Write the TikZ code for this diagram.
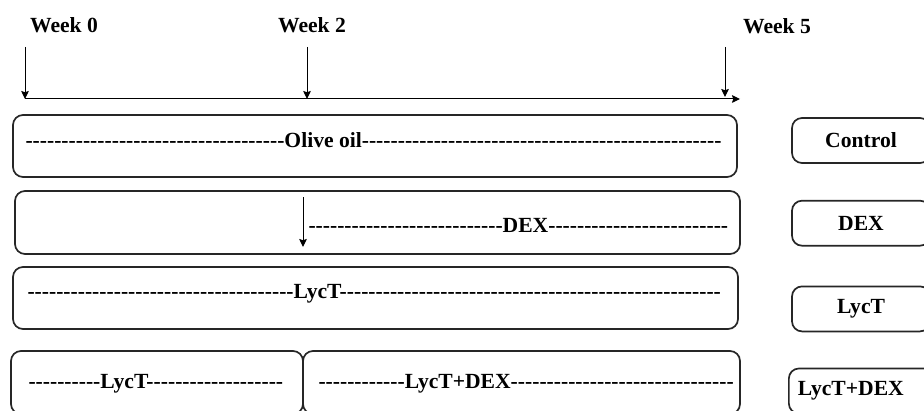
\documentclass[tikz,border=0pt]{standalone}
\usepackage{fontspec}
\setmainfont{Liberation Serif}[Ligatures=TeXOff]
\usetikzlibrary{arrows.meta,positioning}

\begin{document}
\begin{tikzpicture}[->, >={Stealth[length=4pt,width=3.8pt,inset=0.6pt]}, x=0.5pt, y=-0.5pt, line width=0.5pt, font=\fontsize{10.8}{13}\selectfont\bfseries]
\tikzstyle{rowbox}=[draw=black!85, line width=0.85pt, rounded corners=5pt, inner sep=0pt]
\tikzstyle{groupbox}=[rowbox, minimum width=69pt, minimum height=22.5pt]
\tikzstyle{rowtext}=[inner sep=0pt, anchor=base west]

\useasboundingbox (0,0) rectangle (924,411);
\clip (0,0) rectangle (924,411);

% time line
\node (w0) at (64,25)  {Week 0};
\node (w2) at (312,25) {Week 2};
\node (w5) at (777,26) {Week 5};

\coordinate (t0) at (25,47);
\coordinate (t2) at (307,47);
\coordinate (t5) at (725,47);
\coordinate (s0) at (25,99);
\coordinate (s2) at (307,99);
\coordinate (s5) at (725,97);
\coordinate (tend) at (740,99);

\path (s0) edge [->] (tend);
\path (t0) edge [->] (s0);
\path (t2) edge [->] (s2);
\path (t5) edge [->] (s5);

% treatment rows
\node[rowbox, minimum width=362pt, minimum height=31pt]   (oil)  at (375,146)   {};
\node[rowbox, minimum width=362.5pt, minimum height=31.5pt] (dex) at (377.5,222.5) {};
\node[rowbox, minimum width=362.5pt, minimum height=31pt] (lyc)  at (375.5,298) {};
\node[rowbox, minimum width=146pt, minimum height=31.5pt] (lycA) at (157,382.5) {};
\node[rowbox, minimum width=218.5pt, minimum height=31.5pt] (lycB) at (521.5,382.5) {};

\node[rowtext] (oiltxt)  at (25,148)   {------------------------------------Olive oil--------------------------------------------------};
\node[rowtext] (dextxt)  at (308,232.5) {---------------------------DEX-------------------------};
\node[rowtext] (lyctxt)  at (27,298.5) {-------------------------------------LycT-----------------------------------------------------};
\node[rowtext] (lycAtxt) at (28,388.5) {----------LycT-------------------};
\node[rowtext] (lycBtxt) at (318,388.5) {------------LycT+DEX-------------------------------};

\coordinate (d1) at (303,197);
\coordinate (d2) at (303,247);
\path (d1) edge [->] (d2);

% groups
\node[groupbox] (gctrl) at (861,140.5)       {Control};
\node[groupbox] (gdex)  [below=18pt of gctrl]  {DEX};
\node[groupbox] (glyc)  [below=19.5pt of gdex] {LycT};
\node[rowbox, inner xsep=4.5pt, text width=64pt, align=left, minimum height=22.5pt, anchor=west] (gboth) at (788,391) {LycT+DEX};

\end{tikzpicture}
\end{document}
